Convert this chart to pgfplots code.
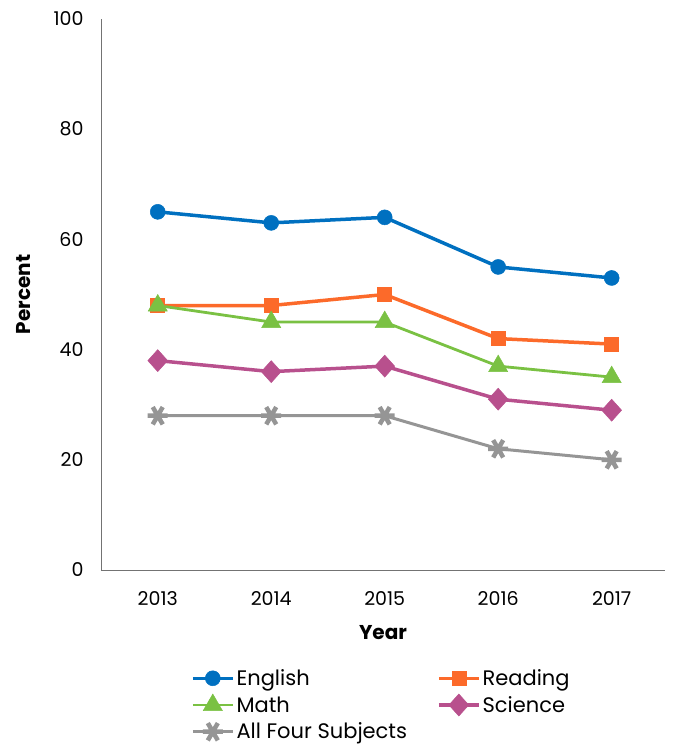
\documentclass[border=0pt]{standalone}
\usepackage{pgfplots}
\pgfplotsset{compat=1.18}
\usepackage{fontspec}
\setmainfont{Poppins}
\definecolor{cEng}{HTML}{0070C0}
\definecolor{cRead}{HTML}{FC6A2A}
\definecolor{cMath}{HTML}{7AC143}
\definecolor{cSci}{HTML}{B8508D}
\definecolor{cAll}{HTML}{959595}
\begin{document}
\begin{tikzpicture}[x=1pt,y=1pt]
\useasboundingbox (-101,-176) rectangle (577,570);
\begin{axis}[
  at={(0,0)}, anchor=south west,
  scale only axis, width=564pt, height=551pt,
  xmin=-0.5, xmax=4.47, ymin=0, ymax=100,
  xtick={0,1,2,3,4}, xticklabels={2013,2014,2015,2016,2017},
  ytick={0,20,40,60,80,100},
  axis x line*=bottom, axis y line*=left,
  axis line style={black!55, line width=0.8pt, -},
  major tick length=0pt,
  /pgf/number format/assume math mode=true,
  ticklabel style={font=\fontsize{19}{22}\selectfont, black},
  yticklabel style={xshift=-14pt},
  xticklabel style={yshift=-18pt},
  xlabel={\textbf{Year}}, ylabel={\textbf{Percent}},
  label style={font=\fontsize{20}{23}\selectfont},
  xlabel style={yshift=-13pt},
  ylabel style={yshift=16pt},
  legend columns=2,
  legend cell align=left,
  legend style={draw=none, fill=none, at={(0.154,-0.173)}, anchor=north west,
    font=\fontsize{21}{24}\selectfont, row sep=5pt,
    /tikz/every even column/.append style={column sep=28pt}},
  legend image code/.code={\draw[mark repeat=2,mark phase=2] plot coordinates {(0pt,0pt)(20pt,0pt)(40pt,0pt)};},
]
\addplot[cEng, line width=3.5pt, mark=*, mark size=7.5pt, mark options={solid, fill=cEng, line width=0.5pt}]
  coordinates {(0,65)(1,63)(2,64)(3,55)(4,53)};
\addlegendentry{English}
\addplot[cRead, line width=3.5pt, mark=square*, mark size=7pt, mark options={solid, fill=cRead, line width=0.5pt}]
  coordinates {(0,48)(1,48)(2,50)(3,42)(4,41)};
\addlegendentry{Reading}
\addplot[cMath, line width=2.8pt, mark=triangle*, mark size=11pt, mark options={solid, fill=cMath, line width=0.5pt}]
  coordinates {(0,48)(1,45)(2,45)(3,37)(4,35)};
\addlegendentry{Math}
\addplot[cSci, line width=3.5pt, mark=diamond*, mark size=11pt, mark options={solid, fill=cSci, line width=0.5pt, xscale=1.2}]
  coordinates {(0,38)(1,36)(2,37)(3,31)(4,29)};
\addlegendentry{Science}
\addplot[cAll, line width=3pt, mark=asterisk, mark size=10pt, mark options={solid, line width=4.5pt, rotate=90}]
  coordinates {(0,28)(1,28)(2,28)(3,22)(4,20)};
\addlegendentry{All Four Subjects}
\end{axis}
\end{tikzpicture}
\end{document}
